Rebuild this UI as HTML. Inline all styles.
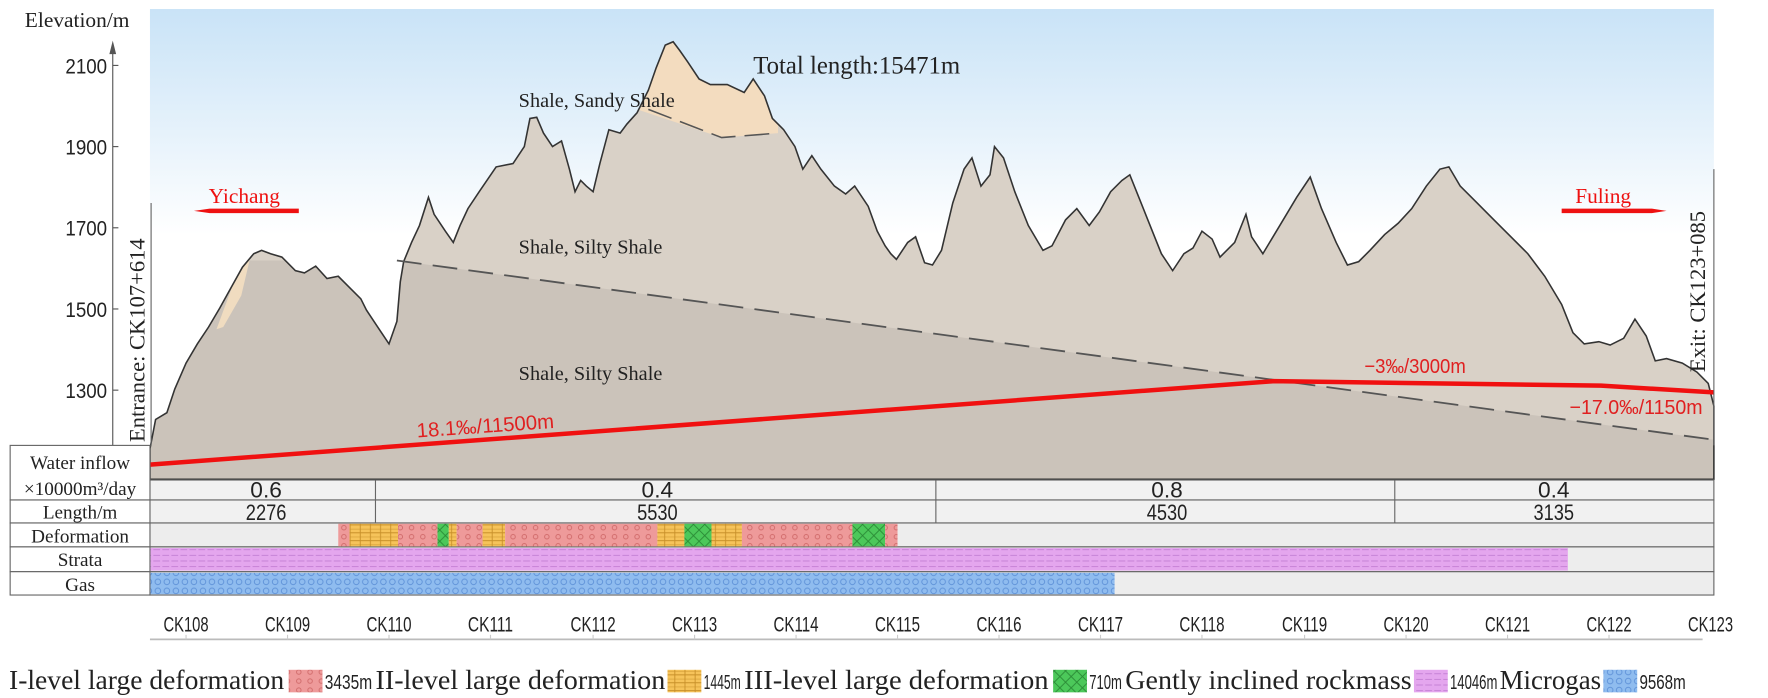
<!DOCTYPE html>
<html><head><meta charset="utf-8"><style>html,body{margin:0;padding:0;background:#fff}svg{display:block}</style></head><body>
<svg width="1768" height="698" viewBox="0 0 1568 619" xmlns="http://www.w3.org/2000/svg">
<defs>
<linearGradient id="sky" x1="0" y1="0" x2="0" y2="1">
<stop offset="0" stop-color="#c9e3f7"/><stop offset="0.55" stop-color="#e6f2fb"/><stop offset="1" stop-color="#ffffff"/>
</linearGradient>
<pattern id="pI" width="10" height="8" patternUnits="userSpaceOnUse"><rect width="10" height="8" fill="#ee9a9a"/><circle cx="5" cy="4" r="2" fill="none" stroke="#d06a6a" stroke-width="0.8"/></pattern>
<pattern id="pII" width="9" height="7" patternUnits="userSpaceOnUse"><rect width="9" height="7" fill="#f6c35a"/><path d="M0 0H9M0 3.5H9M4.5 0V7" stroke="#c8902a" stroke-width="0.8"/></pattern>
<pattern id="pIII" width="10" height="10" patternUnits="userSpaceOnUse"><rect width="10" height="10" fill="#4cc85a"/><path d="M0 0L10 10M10 0L0 10" stroke="#2a8a35" stroke-width="0.8"/></pattern>
<pattern id="pS" width="8" height="5" patternUnits="userSpaceOnUse"><rect width="8" height="5" fill="#e4a6ee"/><path d="M0 2.5H6" stroke="#c47fd4" stroke-width="0.8"/></pattern>
<pattern id="pG" width="8" height="8" patternUnits="userSpaceOnUse"><rect width="8" height="8" fill="#8fbcef"/><circle cx="4" cy="4" r="2.5" fill="none" stroke="#5f92d8" stroke-width="0.8"/></pattern>
<clipPath id="prof"><path id="pp" d="M133,398 L138,372 L148,366 L155,345 L165,322 L175,305 L185,290 L195,273 L205,255 L215,237 L225,225 L232,222 L240,225 L250,228 L262,240 L270,242 L280,236 L290,247 L300,245 L310,255 L320,265 L325,275 L335,290 L345,305 L352,285 L355,250 L358,232 L365,215 L372,200 L380,175 L385,190 L395,205 L402,215 L408,200 L415,185 L425,170 L440,148 L455,145 L465,130 L470,105 L476,104 L482,118 L490,130 L498,125 L505,150 L510,170 L515,160 L520,165 L526,170 L532,145 L540,115 L550,118 L556,110 L565,100 L575,80 L582,60 L590,40 L597,37 L603,45 L610,55 L620,70 L630,75 L645,75 L660,82 L668,70 L678,85 L685,105 L695,115 L705,130 L712,150 L720,138 L728,150 L740,165 L750,172 L758,165 L770,183 L778,205 L785,218 L790,225 L795,230 L805,215 L812,210 L820,233 L827,235 L835,222 L845,180 L855,150 L862,140 L870,165 L878,155 L882,130 L890,140 L900,170 L912,200 L925,222 L933,218 L945,195 L955,185 L966,200 L975,188 L985,170 L995,160 L1002,155 L1010,175 L1018,195 L1030,225 L1040,240 L1050,225 L1058,220 L1066,205 L1075,212 L1082,228 L1095,215 L1105,190 L1110,210 L1120,225 L1135,200 L1150,175 L1162,157 L1172,185 L1185,215 L1195,235 L1205,232 L1215,222 L1228,208 L1240,198 L1252,185 L1265,165 L1277,150 L1285,148 L1295,165 L1310,180 L1325,195 L1340,210 L1355,225 L1370,245 L1385,270 L1395,295 L1405,305 L1418,303 L1428,306 L1440,300 L1450,283 L1460,298 L1468,320 L1478,318 L1492,322 L1505,330 L1515,340 L1520,360 L1520,425 L133,425 Z"/></clipPath>
</defs>
<rect x="133" y="8" width="1387" height="200" fill="url(#sky)"/>
<g clip-path="url(#prof)">
<rect x="133" y="0" width="1387" height="425" fill="#d9d1c7"/>
<path d="M352,231 L1520,390 L1520,425 L133,425 L133,231 Z" fill="#cbc3ba"/>
<path d="M565,97 L640,122 L690,118 L690,0 L565,0 Z" fill="#f3dcbf"/>
<path d="M212,238 L222,228 L214,262 L198,290 L192,292 Z" fill="#f0dcc0"/>
</g>
<use href="#pp" fill="none" stroke="#333" stroke-width="1.4"/>
<path d="M352,231 L1520,390" stroke="#555" stroke-width="1.6" stroke-dasharray="22,10" fill="none"/>
<path d="M575,97 L640,122 L690,118" stroke="#555" stroke-width="1.4" stroke-dasharray="22,8" fill="none"/>
<path d="M133,412 L1130,338 L1420,342 L1520,348" stroke="#f01010" stroke-width="4" fill="none"/>
<g font-family="Liberation Sans Narrow, Liberation Sans, sans-serif" fill="#e02020" font-size="18">
<text x="370" y="388" transform="rotate(-4 370 388)" textLength="122" lengthAdjust="spacingAndGlyphs">18.1‰/11500m</text>
<text x="1210" y="331" textLength="90" lengthAdjust="spacingAndGlyphs">−3‰/3000m</text>
<text x="1392" y="367" textLength="118" lengthAdjust="spacingAndGlyphs">−17.0‰/1150m</text>
</g>
<g font-family="Liberation Sans Narrow, Liberation Sans, sans-serif" font-size="19" fill="#222" text-anchor="end">
<line x1="100" y1="40" x2="100" y2="395" stroke="#555"/>
<path d="M97,48 L100,36 L103,48 Z" fill="#555"/>
<text x="95" y="65" textLength="37" lengthAdjust="spacingAndGlyphs">2100</text><line x1="100" y1="58" x2="105" y2="58" stroke="#555"/>
<text x="95" y="137" textLength="37" lengthAdjust="spacingAndGlyphs">1900</text><line x1="100" y1="130" x2="105" y2="130" stroke="#555"/>
<text x="95" y="209" textLength="37" lengthAdjust="spacingAndGlyphs">1700</text><line x1="100" y1="202" x2="105" y2="202" stroke="#555"/>
<text x="95" y="281" textLength="37" lengthAdjust="spacingAndGlyphs">1500</text><line x1="100" y1="274" x2="105" y2="274" stroke="#555"/>
<text x="95" y="353" textLength="37" lengthAdjust="spacingAndGlyphs">1300</text><line x1="100" y1="346" x2="105" y2="346" stroke="#555"/>
</g>
<g font-family="Liberation Serif, serif" fill="#222">
<text x="22" y="24" font-size="19">Elevation/m</text>
<text x="668" y="65" font-size="22">Total length:15471m</text>
<text x="460" y="95" font-size="18">Shale, Sandy Shale</text>
<text x="460" y="225" font-size="18">Shale, Silty Shale</text>
<text x="460" y="337" font-size="18">Shale, Silty Shale</text>
<line x1="134" y1="180" x2="134" y2="395" stroke="#666"/>
<text transform="translate(128,392) rotate(-90)" font-size="20">Entrance: CK107+614</text>
<line x1="1520" y1="150" x2="1520" y2="395" stroke="#666"/>
<text transform="translate(1512,330) rotate(-90)" font-size="20">Exit: CK123+085</text>
</g>
<g font-family="Liberation Serif, serif" fill="#ee1111" font-size="19">
<text x="185" y="180">Yichang</text>
<path d="M186,185 L265,185 L265,189 L186,189 L172,187 Z" fill="#ee1111"/>
<text x="1397" y="180">Fuling</text>
<path d="M1385,185 L1465,185 L1478,187 L1465,189 L1385,189 Z" fill="#ee1111"/>
</g>
<g stroke="#666" stroke-width="1">
<rect x="133" y="425.7" width="1387" height="17.7" fill="#f1f1f1"/>
<rect x="133" y="443.4" width="1387" height="20.4" fill="#f1f1f1"/>
<rect x="133" y="463.8" width="1387" height="21.2" fill="#ededed"/>
<rect x="133" y="485" width="1387" height="22" fill="#ededed"/>
<rect x="133" y="507" width="1387" height="20.7" fill="#ededed"/>
<rect x="9" y="395" width="124" height="48.4" fill="#fff"/>
<rect x="9" y="443.4" width="124" height="20.4" fill="#fff"/>
<rect x="9" y="463.8" width="124" height="21.2" fill="#fff"/>
<rect x="9" y="485" width="124" height="22" fill="#fff"/>
<rect x="9" y="507" width="124" height="20.7" fill="#fff"/>
<line x1="333" y1="425.7" x2="333" y2="463.8"/><line x1="830" y1="425.7" x2="830" y2="463.8"/><line x1="1237" y1="425.7" x2="1237" y2="463.8"/>
</g>
<g stroke="none">
<rect x="300" y="464.5" width="10" height="20" fill="url(#pI)"/>
<rect x="310" y="464.5" width="43" height="20" fill="url(#pII)"/>
<rect x="353" y="464.5" width="35" height="20" fill="url(#pI)"/>
<rect x="388" y="464.5" width="10" height="20" fill="url(#pIII)"/>
<rect x="398" y="464.5" width="7" height="20" fill="url(#pII)"/>
<rect x="405" y="464.5" width="23" height="20" fill="url(#pI)"/>
<rect x="428" y="464.5" width="20" height="20" fill="url(#pII)"/>
<rect x="448" y="464.5" width="135" height="20" fill="url(#pI)"/>
<rect x="583" y="464.5" width="24" height="20" fill="url(#pII)"/>
<rect x="607" y="464.5" width="24" height="20" fill="url(#pIII)"/>
<rect x="631" y="464.5" width="27" height="20" fill="url(#pII)"/>
<rect x="658" y="464.5" width="98" height="20" fill="url(#pI)"/>
<rect x="756" y="464.5" width="29" height="20" fill="url(#pIII)"/>
<rect x="785" y="464.5" width="11" height="20" fill="url(#pI)"/>
<rect x="133.5" y="486" width="1257" height="20" fill="url(#pS)"/>
<rect x="133.5" y="508" width="855" height="19" fill="url(#pG)"/>
</g>
<g font-family="Liberation Serif, serif" font-size="17" fill="#222" text-anchor="middle">
<text x="71" y="416">Water inflow</text>
<text x="71" y="439">×10000m³/day</text>
<text x="71" y="460">Length/m</text>
<text x="71" y="481">Deformation</text>
<text x="71" y="502">Strata</text>
<text x="71" y="524">Gas</text>
</g>
<g font-family="Liberation Sans Narrow, Liberation Sans, sans-serif" font-size="20" fill="#222" text-anchor="middle">
<text x="236" y="441" textLength="28" lengthAdjust="spacingAndGlyphs">0.6</text><text x="236" y="461" textLength="36" lengthAdjust="spacingAndGlyphs">2276</text>
<text x="583" y="441" textLength="28" lengthAdjust="spacingAndGlyphs">0.4</text><text x="583" y="461" textLength="36" lengthAdjust="spacingAndGlyphs">5530</text>
<text x="1035" y="441" textLength="28" lengthAdjust="spacingAndGlyphs">0.8</text><text x="1035" y="461" textLength="36" lengthAdjust="spacingAndGlyphs">4530</text>
<text x="1378" y="441" textLength="28" lengthAdjust="spacingAndGlyphs">0.4</text><text x="1378" y="461" textLength="36" lengthAdjust="spacingAndGlyphs">3135</text>
</g>
<line x1="133" y1="567" x2="1510" y2="567" stroke="#bbb" stroke-width="1.5"/>
<g font-family="Liberation Sans Narrow, Liberation Sans, sans-serif" font-size="19" fill="#222" text-anchor="middle">
<text x="165" y="560" textLength="40" lengthAdjust="spacingAndGlyphs">CK108</text><text x="255" y="560" textLength="40" lengthAdjust="spacingAndGlyphs">CK109</text><text x="345" y="560" textLength="40" lengthAdjust="spacingAndGlyphs">CK110</text><text x="435" y="560" textLength="40" lengthAdjust="spacingAndGlyphs">CK111</text>
<text x="526" y="560" textLength="40" lengthAdjust="spacingAndGlyphs">CK112</text><text x="616" y="560" textLength="40" lengthAdjust="spacingAndGlyphs">CK113</text><text x="706" y="560" textLength="40" lengthAdjust="spacingAndGlyphs">CK114</text><text x="796" y="560" textLength="40" lengthAdjust="spacingAndGlyphs">CK115</text>
<text x="886" y="560" textLength="40" lengthAdjust="spacingAndGlyphs">CK116</text><text x="976" y="560" textLength="40" lengthAdjust="spacingAndGlyphs">CK117</text><text x="1066" y="560" textLength="40" lengthAdjust="spacingAndGlyphs">CK118</text><text x="1157" y="560" textLength="40" lengthAdjust="spacingAndGlyphs">CK119</text>
<text x="1247" y="560" textLength="40" lengthAdjust="spacingAndGlyphs">CK120</text><text x="1337" y="560" textLength="40" lengthAdjust="spacingAndGlyphs">CK121</text><text x="1427" y="560" textLength="40" lengthAdjust="spacingAndGlyphs">CK122</text><text x="1517" y="560" textLength="40" lengthAdjust="spacingAndGlyphs">CK123</text>
</g>
<g stroke="#ccc" stroke-width="1">
<line x1="165" y1="563" x2="165" y2="567"/><line x1="255" y1="563" x2="255" y2="567"/><line x1="345" y1="563" x2="345" y2="567"/><line x1="435" y1="563" x2="435" y2="567"/><line x1="526" y1="563" x2="526" y2="567"/><line x1="616" y1="563" x2="616" y2="567"/><line x1="706" y1="563" x2="706" y2="567"/><line x1="796" y1="563" x2="796" y2="567"/><line x1="886" y1="563" x2="886" y2="567"/><line x1="976" y1="563" x2="976" y2="567"/><line x1="1066" y1="563" x2="1066" y2="567"/><line x1="1157" y1="563" x2="1157" y2="567"/><line x1="1247" y1="563" x2="1247" y2="567"/><line x1="1337" y1="563" x2="1337" y2="567"/><line x1="1427" y1="563" x2="1427" y2="567"/>
</g>
<g font-family="Liberation Serif, serif" font-size="24" fill="#222">
<text x="8" y="611" textLength="244" lengthAdjust="spacingAndGlyphs">I-level large deformation</text>
<rect x="256" y="594" width="30" height="20" fill="url(#pI)"/>
<text x="288" y="611" font-family="Liberation Sans Narrow, Liberation Sans, sans-serif" font-size="18" textLength="42" lengthAdjust="spacingAndGlyphs">3435m</text>
<text x="333" y="611" textLength="257" lengthAdjust="spacingAndGlyphs">II-level large deformation</text>
<rect x="592" y="594" width="30" height="20" fill="url(#pII)"/>
<text x="624" y="611" font-family="Liberation Sans Narrow, Liberation Sans, sans-serif" font-size="18" textLength="33" lengthAdjust="spacingAndGlyphs">1445m</text>
<text x="660" y="611" textLength="270" lengthAdjust="spacingAndGlyphs">III-level large deformation</text>
<rect x="934" y="594" width="30" height="20" fill="url(#pIII)"/>
<text x="966" y="611" font-family="Liberation Sans Narrow, Liberation Sans, sans-serif" font-size="18" textLength="29" lengthAdjust="spacingAndGlyphs">710m</text>
<text x="998" y="611" textLength="254" lengthAdjust="spacingAndGlyphs">Gently inclined rockmass</text>
<rect x="1254" y="594" width="30" height="20" fill="url(#pS)"/>
<text x="1286" y="611" font-family="Liberation Sans Narrow, Liberation Sans, sans-serif" font-size="18" textLength="42" lengthAdjust="spacingAndGlyphs">14046m</text>
<text x="1330" y="611" textLength="90" lengthAdjust="spacingAndGlyphs">Microgas</text>
<rect x="1422" y="594" width="30" height="20" fill="url(#pG)"/>
<text x="1454" y="611" font-family="Liberation Sans Narrow, Liberation Sans, sans-serif" font-size="18" textLength="41" lengthAdjust="spacingAndGlyphs">9568m</text>
</g>
</svg>
</body></html>
